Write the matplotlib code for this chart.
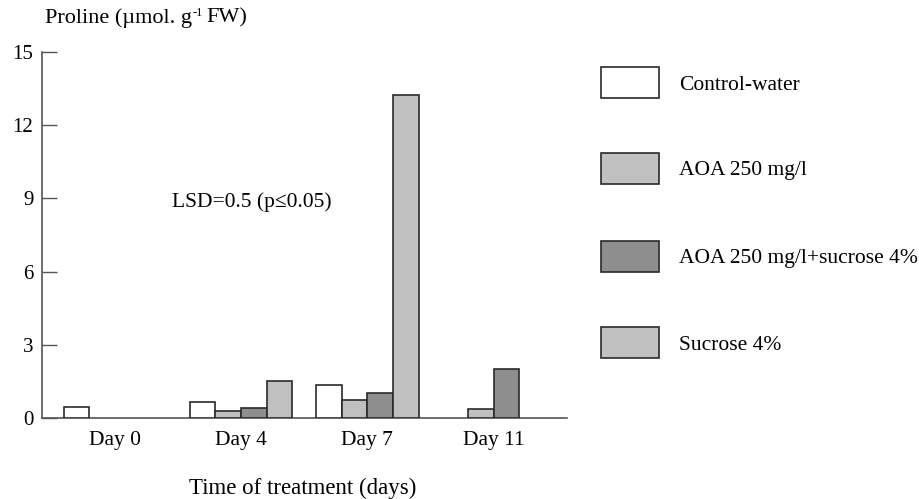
import matplotlib
matplotlib.use("Agg")
import matplotlib.pyplot as plt
import numpy as np
from matplotlib.patches import Rectangle

plt.rcParams['font.family'] = ['Liberation Serif', 'DejaVu Serif']

days = ["Day 0", "Day 4", "Day 7", "Day 11"]
series_names = ["Control-water", "AOA 250 mg/l", "AOA 250 mg/l+sucrose 4%", "Sucrose 4%"]
control = [0.44, 0.64, 1.34, 0.0]
aoa = [0.0, 0.30, 0.72, 0.37]
aoa_suc = [0.0, 0.43, 1.03, 2.0]
sucrose = [0.0, 1.52, 13.22, 0.0]
yticks = [0, 3, 6, 9, 12, 15]
colors = ["#ffffff", "#c0c0c0", "#8e8e8e", "#c0c0c0"]

fig = plt.figure(figsize=(9.2, 4.99), dpi=100)
ax = fig.add_axes([0.0453, 0.1623, 0.5707, 0.7335])

x = np.arange(len(days))
w = 0.203
for i, vals in enumerate([control, aoa, aoa_suc, sucrose]):
    v = np.array(vals)
    xs = x - 1.5 * w + i * w
    mask = v > 0
    ax.bar(xs[mask], v[mask], width=w, color=colors[i], edgecolor="#2a2a2a",
           linewidth=1.2, zorder=3)

ax.set_xlim(-0.58, 3.58)
ax.set_ylim(0, 15)
ax.set_yticks(yticks)
ax.set_xticks(x)
ax.set_xticklabels(days, fontsize=15.5)
ax.tick_params(axis='x', length=0, pad=9)
ax.tick_params(axis='y', direction='in', length=11, width=1, color="#555555",
               labelsize=15, pad=6)
for s in ['top', 'right']:
    ax.spines[s].set_visible(False)
ax.spines['left'].set_color("#555555")
ax.spines['bottom'].set_color("#555555")
ax.spines['left'].set_linewidth(1.2)
ax.spines['bottom'].set_linewidth(1.2)

ax.text(0.45, 8.85, "LSD=0.5 (p\u22640.05)", fontsize=15.5, ha='left', va='center')

fig.text(303 / 920, 1 - 488 / 499, "Time of treatment (days)", fontsize=16.5,
         ha='center', va='center')

# y-axis title with small superscript
fig.canvas.draw()
r = fig.canvas.get_renderer()
t1 = fig.text(45 / 920, 1 - 18 / 499, "Proline (\u00b5mol. g", fontsize=16,
              ha='left', va='center')
bb = t1.get_window_extent(r)
t2 = fig.text(bb.x1 / 920 + 1 / 920, 1 - 13 / 499, "-1", fontsize=9,
              ha='left', va='center')
bb2 = t2.get_window_extent(r)
fig.text(bb2.x1 / 920 + 3 / 920, 1 - 18 / 499, "FW)", fontsize=16,
         ha='left', va='center')

# legend
ys = [67, 153, 241, 327]
for i, name in enumerate(series_names):
    y0 = ys[i]
    fig.patches.append(Rectangle((601 / 920, 1 - (y0 + 31) / 499), 58 / 920, 31 / 499,
                                 transform=fig.transFigure, facecolor=colors[i],
                                 edgecolor="#2a2a2a", linewidth=1.2))
    fig.text(679 / 920, 1 - (y0 + 18) / 499, name, fontsize=15.5, ha='left', va='center')

fig.savefig("out.png", dpi=100)
